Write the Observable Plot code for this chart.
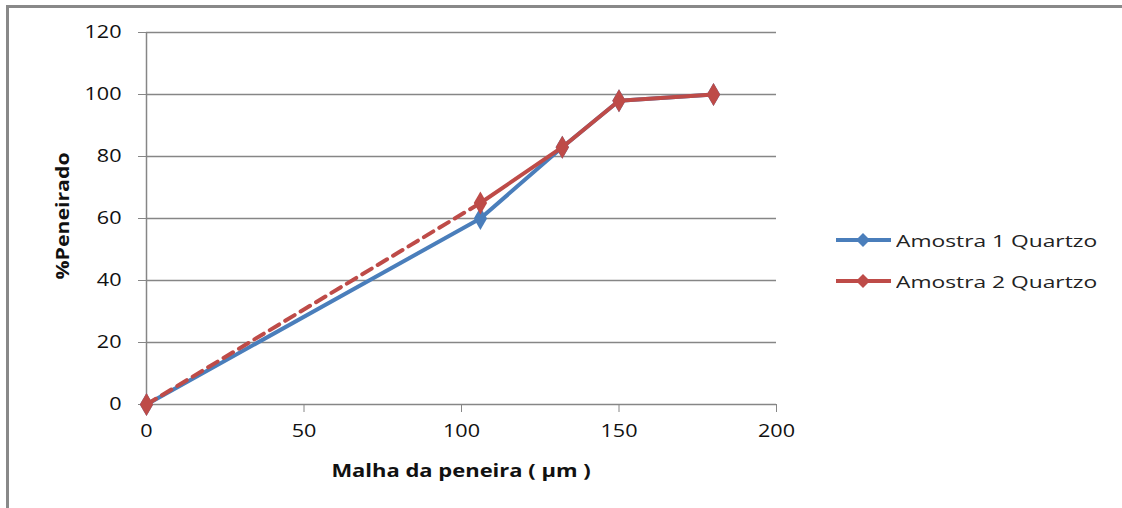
<!DOCTYPE html>
<html>
<head>
<meta charset="utf-8">
<script src="https://cdn.jsdelivr.net/npm/d3@7"></script>
<script src="https://cdn.jsdelivr.net/npm/@observablehq/plot@0.6"></script>
<style>
  html, body { margin: 0; padding: 0; background: #fff; }
  #wrap { position: relative; width: 1122px; height: 508px; overflow: hidden; font-family: "Open Sans", "Liberation Sans", sans-serif; }
  #frame { position: absolute; left: 6px; top: 5px; width: 1200px; height: 600px; border-top: 3px solid #898989; border-left: 3px solid #898989; }
  #chart { position: absolute; left: 0; top: 0; }
  .axlabel { position: absolute; font-weight: bold; font-size: 18px; color: #111; white-space: nowrap; }
  #ylab { left: 62px; top: 216px; transform: translate(-50%, -50%) rotate(-90deg) scaleX(1.18); }
  #xlab { left: 461px; top: 470px; transform: translate(-50%, -50%) scaleX(1.22); }
  .leg { position: absolute; left: 834px; height: 24px; display: flex; align-items: center; font-size: 17px; color: #222; white-space: nowrap; }
  .leg svg { margin-right: 4px; }
  .leg span { display: inline-block; transform: scaleX(1.34); transform-origin: left center; }
</style>
</head>
<body>
<div id="wrap">
  <div id="frame"></div>
  <div id="chart"></div>
  <div class="axlabel" id="ylab">%Peneirado</div>
  <div class="axlabel" id="xlab">Malha da peneira ( µm )</div>
  <div id="legend"></div>
</div>
<script>
// Data
const mesh = [0, 106, 132, 150, 180];
const amostra1 = [0, 60, 83, 98, 100];
const amostra2 = [0, 65, 83, 98, 100];
const seriesNames = ["Amostra 1 Quartzo", "Amostra 2 Quartzo"];
const seriesColors = ["#4A7EBB", "#BE4B48"];
const xTicks = [0, 50, 100, 150, 200];
const yTicks = [0, 20, 40, 60, 80, 100, 120];

const s1 = mesh.map((m, i) => ({x: m, y: amostra1[i]}));
const s2 = mesh.map((m, i) => ({x: m, y: amostra2[i]}));
const s2dashed = s2.slice(0, 2);
const s2solid = s2.slice(1);

const chart = Plot.plot({
  width: 1122,
  height: 508,
  marginLeft: 146,
  marginRight: 346,
  marginTop: 32,
  marginBottom: 104,
  x: {domain: [0, 200]},
  y: {domain: [0, 120]},
  style: {fontFamily: "'Open Sans', 'Liberation Sans', sans-serif", fontSize: "18px", color: "#111", background: "transparent"},
  marks: [
    Plot.gridY(yTicks, {stroke: "#868686", strokeOpacity: 1, strokeWidth: 1.5}),
    Plot.ruleX([0], {y1: 0, y2: 120, stroke: "#868686", strokeWidth: 1.5}),
    Plot.axisY(yTicks, {tickSize: 8, tickPadding: 17, stroke: "#868686", label: null, tickFormat: d => d}),
    Plot.axisX(xTicks, {tickSize: 8, tickPadding: 12, stroke: "#868686", label: null, tickFormat: d => d}),
    Plot.line(s1, {x: "x", y: "y", stroke: seriesColors[0], strokeWidth: 4}),
    Plot.dot(s1, {x: "x", y: "y", symbol: "diamond", r: 7, fill: seriesColors[0]}),
    Plot.line(s2dashed, {x: "x", y: "y", stroke: seriesColors[1], strokeWidth: 4, strokeDasharray: "11,7"}),
    Plot.line(s2solid, {x: "x", y: "y", stroke: seriesColors[1], strokeWidth: 4}),
    Plot.dot(s2, {x: "x", y: "y", symbol: "diamond", r: 7, fill: seriesColors[1]})
  ]
});
document.getElementById("chart").appendChild(chart);

// Widen tick label glyphs horizontally about their anchor point
chart.querySelectorAll("g[aria-label$='tick label'] text").forEach(t => {
  const x = parseFloat(t.getAttribute("x")) || 0;
  const y = parseFloat(t.getAttribute("y")) || 0;
  const tr = t.getAttribute("transform") || "";
  t.setAttribute("transform", `${tr} translate(${x},${y}) scale(1.2,1) translate(${-x},${-y})`);
});

// Legend
const legend = document.getElementById("legend");
const legTops = [228, 269];
seriesNames.forEach((name, i) => {
  const row = document.createElement("div");
  row.className = "leg";
  row.style.top = legTops[i] + "px";
  row.innerHTML = `<svg width="58" height="24"><line x1="2" y1="12" x2="57" y2="12" stroke="${seriesColors[i]}" stroke-width="4"/><path d="M29,5 L36,12 L29,19 L22,12 Z" fill="${seriesColors[i]}"/></svg><span>${name}</span>`;
  legend.appendChild(row);
});
</script>
</body>
</html>
